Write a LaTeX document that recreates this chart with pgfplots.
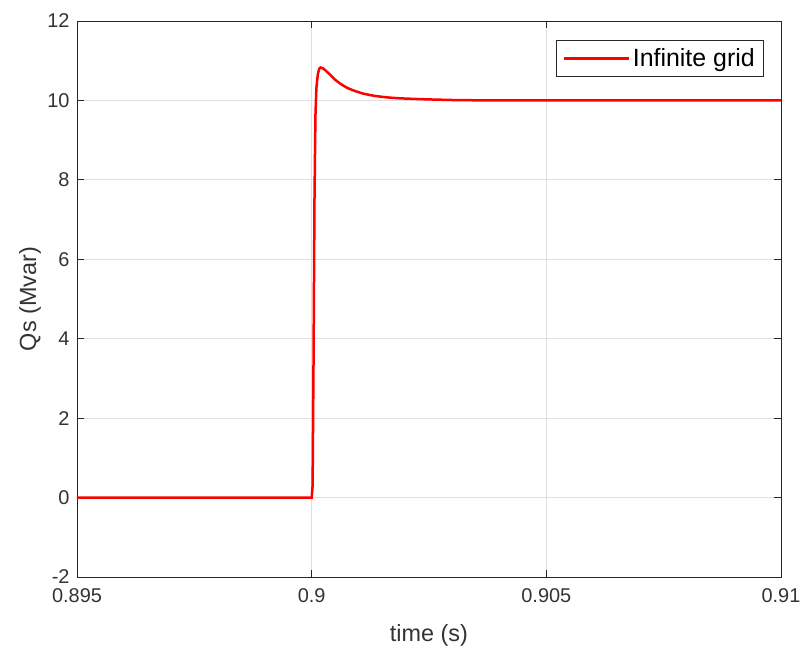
\documentclass[border=0pt]{standalone}
\usepackage{pgfplots}
\pgfplotsset{compat=1.18}
\usepackage{fontspec}
\setmainfont{Liberation Sans}
\definecolor{axgray}{HTML}{262626}
\definecolor{gridgray}{HTML}{DFDFDF}
\definecolor{txtgray}{HTML}{333333}
\begin{document}
\begin{tikzpicture}[x=1bp,y=1bp]
\path[use as bounding box] (-77,-74) rectangle (729,577);
\begin{axis}[
  at={(0,0)}, anchor=south west,
  scale only axis, width=704bp, height=556bp,
  xmin=0.895, xmax=0.91, ymin=-2, ymax=12,
  xtick={0.895,0.9,0.905,0.91},
  xticklabels={0.895,0.9,0.905,0.91},
  ytick={-2,0,2,4,6,8,10,12},
  yticklabels={-2,0,2,4,6,8,10,12},
  grid=major,
  major grid style={gridgray, line width=0.8bp},
  axis line style={axgray, line width=0.8bp},
  tick style={axgray, line width=0.8bp},
  tick align=inside,
  major tick length=7bp,
  ticklabel style={font=\fontsize{20}{24}\selectfont, text=txtgray},
  xticklabel style={yshift=-8bp},
  yticklabel style={xshift=-4bp},
  xlabel={time (s)},
  ylabel={Qs (Mvar)},
  label style={font=\fontsize{23.5}{28}\selectfont, text=txtgray},
  xlabel style={at={(rel axis cs:0.5,0)}, anchor=center, yshift=-58bp},
  ylabel style={at={(rel axis cs:0,0.5)}, anchor=center, xshift=0bp, yshift=47bp},
  legend style={at={(rel axis cs:0.976,0.9665)}, anchor=north east,
    draw=axgray, line width=0.8bp, font=\fontsize{25}{29}\selectfont,
    text=black, inner xsep=6bp, inner ysep=5bp, row sep=0bp,
    nodes={inner xsep=3bp, inner ysep=3.5bp}},
  legend image code/.code={\draw[#1, line width=2.5bp] (-3bp,0bp) -- (62bp,0bp);},
  clip=true,
]
\addplot[red, line width=2.5bp] coordinates {
(0.895,0) (0.8999,0) (0.90000,0) (0.90002,0.3) (0.90004,3.5) (0.90006,7.5)
(0.90008,9.6) (0.90010,10.3) (0.90013,10.65) (0.90016,10.8) (0.90019,10.83)
(0.90025,10.80) (0.90031,10.74) (0.90038,10.66) (0.90045,10.58) (0.90052,10.50)
(0.90060,10.43) (0.90068,10.37) (0.90075,10.32) (0.90085,10.27) (0.90094,10.23)
(0.90110,10.17) (0.90131,10.12) (0.90150,10.09) (0.90167,10.07) (0.90185,10.055)
(0.90203,10.045) (0.90225,10.035) (0.9025,10.025) (0.9030,10.01) (0.9035,10.003)
(0.9040,10.0) (0.91,10.0)
};
\addlegendentry{Infinite grid}
\end{axis}
\end{tikzpicture}
\end{document}
